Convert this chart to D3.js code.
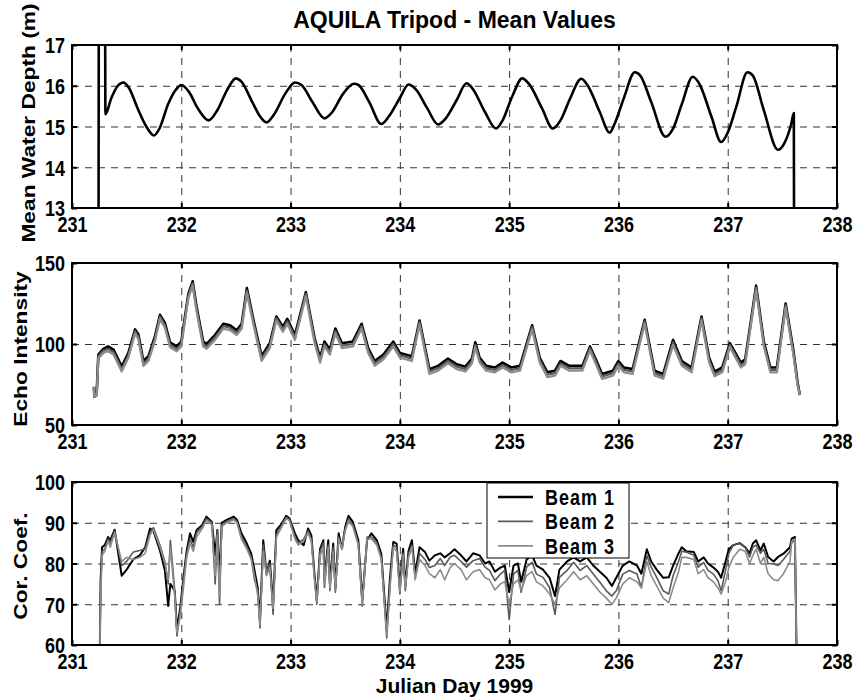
<!DOCTYPE html>
<html lang="en">
<head>
<meta charset="UTF-8">
<title>AQUILA Tripod - Mean Values</title>
<script src="https://d3js.org/d3.v7.min.js"></script>
<style>
  body { margin: 0; background: #fff; }
  svg text { font-family: "Liberation Sans", Arial, Helvetica, sans-serif; font-weight: bold; fill: #000; }
</style>
</head>
<body>
<div id="chart"></div>
<script>
// ---- data ----
const xTicks = [231, 232, 233, 234, 235, 236, 237, 238];

// mean water depth (m)
const depthDays = [231.243, 231.246, 231.302, 231.306, 231.36, 231.42, 231.47, 231.52, 231.60, 231.68, 231.75, 231.80,
  231.88, 231.95, 232.00, 232.07, 232.15, 232.25, 232.33, 232.42, 232.50, 232.55, 232.65, 232.72, 232.78, 232.85,
  232.95, 233.04, 233.10, 233.20, 233.31, 233.38, 233.48, 233.58, 233.62, 233.72, 233.83, 233.90, 234.00, 234.08,
  234.15, 234.25, 234.35, 234.42, 234.52, 234.61, 234.66, 234.78, 234.88, 234.94, 235.03, 235.12, 235.18, 235.30,
  235.40, 235.47, 235.56, 235.66, 235.72, 235.83, 235.92, 235.97, 236.05, 236.15, 236.20, 236.30, 236.43, 236.50,
  236.58, 236.68, 236.74, 236.85, 236.94, 237.00, 237.08, 237.18, 237.23, 237.33, 237.46, 237.52, 237.58, 237.605, 237.607];
const depthVals = [12.5, 18, 18, 15.3, 15.7, 16.0, 16.08, 15.95, 15.45, 15.0, 14.78, 14.95,
  15.55, 15.9, 16.02, 15.85, 15.45, 15.15, 15.4, 15.9, 16.18, 16.1, 15.6, 15.25, 15.1, 15.3,
  15.8, 16.08, 16.02, 15.6, 15.2, 15.35, 15.8, 16.05, 16.02, 15.6, 15.06, 15.25, 15.7, 16.03,
  15.9, 15.45, 15.05, 15.2, 15.65, 16.06, 15.95, 15.35, 14.95, 15.15, 15.75, 16.18, 16.05, 15.45,
  14.95, 15.15, 15.7, 16.17, 16.0, 15.35, 14.85, 15.1, 15.7, 16.33, 16.25, 15.6, 14.75, 14.95,
  15.55, 16.22, 16.05, 15.25, 14.62, 14.85, 15.5, 16.33, 16.25, 15.4, 14.43, 14.6, 15.05, 15.33, 12.5];

// echo intensity, three beams
const echoDays = [231.20, 231.205, 231.226, 231.241, 231.287, 231.33, 231.38, 231.455, 231.516, 231.577, 231.607,
  231.653, 231.70, 231.76, 231.805, 231.85, 231.897, 231.958, 232.0, 232.065, 232.104, 232.14, 232.2, 232.232,
  232.308, 232.385, 232.446, 232.507, 232.553, 232.6, 232.66, 232.735, 232.81, 232.87, 232.93, 232.97, 233.04,
  233.14, 233.22, 233.27, 233.31, 233.36, 233.41, 233.47, 233.57, 233.65, 233.71, 233.77, 233.85, 233.94, 234.0,
  234.11, 234.18, 234.27, 234.35, 234.44, 234.52, 234.6, 234.66, 234.69, 234.73, 234.79, 234.87, 234.94, 235.02,
  235.1, 235.21, 235.28, 235.35, 235.42, 235.47, 235.55, 235.67, 235.74, 235.8, 235.85, 235.95, 236.0, 236.05,
  236.13, 236.24, 236.33, 236.41, 236.5, 236.58, 236.67, 236.76, 236.83, 236.88, 236.95, 237.02, 237.12, 237.16,
  237.26, 237.33, 237.39, 237.45, 237.53, 237.6, 237.64, 237.66];
const echoBeam1 = [73.5, 67.5, 70, 93.5, 97, 98.5, 96.5, 86, 94.5, 109, 106, 89.5, 92.5, 105, 118, 113, 101, 98.5,
  101.5, 131, 138.7, 123, 101.5, 100, 105.5, 112.5, 111.5, 108.5, 112.5, 134.5, 115, 92.5, 100.5, 117, 110.5, 115.5,
  105.5, 132, 103.5, 91.5, 101.5, 96.5, 109.5, 100.5, 101.5, 112.5, 97.5, 89.5, 93.5, 101.5, 94.5, 92.5, 114.5,
  84.5, 86.5, 91, 87.5, 86, 91, 101, 91.5, 86.5, 85.5, 88.5, 85.5, 86.5, 111.5, 91.5, 82.5, 83.5, 89.5, 86.5, 86.5,
  98.5, 89.5, 81.5, 83.5, 89.5, 85.5, 84.5, 115, 83.5, 81.5, 102.5, 89.5, 85.5, 117, 91.5, 83, 85.5, 100.5, 88.5,
  90.5, 136, 101.5, 85.5, 85.5, 125, 96.5, 76, 68.5];
const echoBeam2 = [73.5, 67.5, 69, 92.5, 96, 97, 95, 84.5, 93, 108, 104.5, 88, 91, 103.5, 117, 111.5, 99.5, 97,
  100, 130, 137.5, 121.5, 100, 98.5, 104, 111, 110, 107, 111, 133, 113.5, 91, 99, 116, 109, 114,
  104, 131, 102, 90, 100, 95, 108, 99, 100, 111, 96, 88, 92, 100, 93, 91, 113.5,
  83, 85, 89.5, 86, 84.5, 89.5, 99.5, 90, 85, 84, 87, 84, 85, 110.5, 90, 81, 82, 88, 85, 85,
  97.5, 88, 80, 82, 88, 84, 83, 114, 82, 80, 101, 88, 84, 116, 90, 81.5, 84, 99.5, 87,
  89, 135, 100, 84, 84, 124, 95, 75, 68.5];
const echoBeam3 = [73.5, 67.5, 68, 91, 94.5, 95.5, 93.5, 83, 91.5, 106.5, 103, 86.5, 89.5, 102, 115.5, 110, 98, 95.5,
  98.5, 128.5, 136, 120, 98.5, 97, 102.5, 109.5, 108.5, 105.5, 109.5, 131.5, 112, 89.5, 97.5, 114.5, 107.5, 112.5,
  102.5, 129.5, 100.5, 88.5, 98.5, 93.5, 106.5, 97.5, 98.5, 109.5, 94.5, 86.5, 90.5, 98.5, 91.5, 89.5, 112,
  81.5, 83.5, 88, 84.5, 83, 88, 98, 88.5, 83.5, 82.5, 85.5, 82.5, 83.5, 109, 88.5, 79.5, 80.5, 86.5, 83.5, 83.5,
  96, 86.5, 78.5, 80.5, 86.5, 82.5, 81.5, 112.5, 80.5, 78.5, 99.5, 86.5, 82.5, 114.5, 88.5, 80, 82.5, 98, 85.5,
  87.5, 133.5, 98.5, 82.5, 82.5, 122.5, 93.5, 74, 68.5];

// correlation coefficient, three beams
const corDays = [231.254, 231.262, 231.275, 231.30, 231.33, 231.35, 231.39, 231.455, 231.50, 231.56, 231.62, 231.67,
  231.714, 231.745, 231.805, 231.85, 231.88, 231.90, 231.94, 231.96, 231.99, 232.02, 232.05, 232.08, 232.11, 232.14,
  232.19, 232.23, 232.28, 232.31, 232.33, 232.35, 232.37, 232.415, 232.48, 232.51, 232.55, 232.60, 232.64, 232.67,
  232.70, 232.72, 232.75, 232.78, 232.81, 232.84, 232.87, 232.92, 232.96, 232.99, 233.04, 233.07, 233.12, 233.16,
  233.19, 233.22, 233.24, 233.27, 233.30, 233.31, 233.345, 233.36, 233.39, 233.41, 233.44, 233.47, 233.50, 233.53,
  233.57, 233.62, 233.656, 233.70, 233.74, 233.79, 233.83, 233.88, 233.91, 233.94, 233.97, 234.00, 234.03, 234.05,
  234.08, 234.11, 234.14, 234.18, 234.23, 234.27, 234.32, 234.37, 234.41, 234.46, 234.50, 234.56, 234.61, 234.67,
  234.73, 234.78, 234.82, 234.87, 234.92, 234.96, 235.00, 235.04, 235.08, 235.11, 235.16, 235.21, 235.25, 235.31,
  235.37, 235.42, 235.46, 235.53, 235.59, 235.65, 235.71, 235.77, 235.83, 235.89, 235.94, 235.98, 236.04, 236.10,
  236.17, 236.21, 236.26, 236.30, 236.35, 236.41, 236.46, 236.50, 236.55, 236.58, 236.62, 236.69, 236.73, 236.78,
  236.82, 236.87, 236.91, 236.94, 236.98, 237.01, 237.05, 237.11, 237.16, 237.20, 237.23, 237.26, 237.30, 237.33,
  237.37, 237.42, 237.46, 237.51, 237.57, 237.585, 237.615, 237.63];
const corBeam1 = [58, 76, 84, 84.5, 86.5, 85.7, 88.3, 77, 78.5, 81, 82, 84, 88.6, 88, 83.2, 78.3, 69.6, 75, 73.3, 64,
  69, 76.6, 83.2, 87.4, 85.3, 88.2, 89.4, 91.5, 90.2, 82, 88.2, 76, 90, 90.7, 91.5, 90.7, 87.4, 84.9, 82.4, 78.3,
  74, 66, 85.7, 77.4, 80.7, 70, 88.2, 89.8, 91.7, 91.1, 87.4, 85.7, 84.5, 88.6, 86.9, 77, 71, 83.6, 85.7, 76,
  85.7, 75, 84.9, 74, 87.4, 83.6, 89, 91.7, 90.2, 85.7, 71, 85.7, 87.4, 85.7, 82.4, 64, 76.6, 85.3, 84.9, 74,
  83.6, 74.5, 83.2, 85.7, 77.5, 84, 82.8, 80.7, 82, 82.5, 81.5, 82.5, 83.5, 82, 80.5, 82.5, 82, 80, 80.5, 78, 79,
  79.5, 73, 79.5, 80, 75.5, 81, 82, 79.5, 78.5, 76.5, 72, 78.5, 80.5, 81.5, 80.5, 81.5, 79.5, 78, 76.5, 74.5,
  76.5, 79.5, 80.5, 79.5, 77.5, 83.5, 80.5, 78.5, 76.5, 76.6, 79.5, 82.5, 84, 83, 82.8, 80.5, 81.5, 80, 79, 78,
  76.5, 80.5, 83.5, 84.5, 85, 84, 82.5, 84.9, 85.7, 83.2, 84.9, 81.6, 80.5, 81.6, 82.4, 84, 86.1, 86.5, 58];
const corBeam2 = [58, 74, 83, 83.5, 86, 85, 88, 79.5, 80.5, 82.8, 83.2, 83.6, 87.5, 88.8, 84.5, 80.5, 75, 85.7, 73.5,
  62.2, 68.3, 76, 82.5, 86, 84, 87.5, 89, 91, 90, 75, 88, 70, 89.5, 90.3, 91, 90.2, 86.5, 84, 81.5, 76, 73.3,
  64.2, 84.5, 78, 80, 67.5, 87, 89.5, 91.3, 90.8, 86.5, 85, 86, 88, 86, 76.6, 70, 83, 85, 74.1, 84.5, 73.3, 84,
  72.9, 86.5, 84, 88.5, 91, 89.5, 85, 69.6, 86.5, 86.5, 85, 81.5, 61.7, 75, 84.5, 84, 72.5, 82.5, 73.3, 82.5,
  84.5, 76.6, 82.5, 81, 79, 79.5, 81.2, 79.5, 81.6, 82, 80.5, 79.1, 80.7, 81.2, 79.1, 78.3, 75.8, 77.4, 78.3,
  66.3, 77.4, 78.3, 72.9, 79.1, 80.3, 77.4, 76.6, 74.1, 67.5, 76.6, 78.3, 80.3, 78.3, 79.5, 77.4, 75.4, 73.3,
  72, 73.3, 77.4, 78.3, 77.4, 74.1, 82, 79.1, 76.6, 73.3, 72.5, 77, 80.5, 83, 82.8, 82, 79.1, 80.3, 78.3, 77.4,
  75.8, 73.3, 78.3, 82.4, 84.5, 84.9, 84, 81.6, 84, 84.5, 82.5, 83.5, 80, 79.9, 79.5, 81, 83, 85, 86, 58];
const corBeam3 = [58, 72, 82, 83, 85.5, 84, 87.5, 80.5, 81.5, 81, 81.5, 82.5, 87, 88.3, 84, 80, 76, 84, 72, 63, 67,
  74, 81.5, 85, 83, 86.5, 88.5, 90.5, 89.5, 77, 87, 72, 89, 90, 90.7, 90, 86, 83.5, 81, 77, 72, 65, 83, 77, 79,
  69, 86.5, 89, 91, 90.5, 86, 84.5, 85.5, 87.5, 85.5, 75.5, 70.5, 82, 84, 75, 84, 74, 83, 73.5, 86, 83.5, 88,
  90.5, 89, 84.5, 70, 86, 86, 84.5, 81, 62.5, 74, 84, 83, 73, 82, 74, 81.5, 84, 76, 81, 79.5, 77.5, 76.5, 78.5,
  76, 79, 80, 78.5, 76, 78, 78.5, 76.5, 76, 73.5, 75, 75.5, 70, 75, 76, 73.5, 77, 78, 75.5, 74.5, 72.5, 70, 74,
  76, 78, 76, 77, 75, 73, 71.5, 70, 71.5, 75, 76.5, 75.5, 74, 80.5, 77, 74.5, 71.5, 70.4, 74, 78, 81.5, 81.5, 81,
  77.5, 78.5, 76.5, 75.5, 74, 72.5, 75.5, 79, 81.5, 83.5, 83, 80, 82, 83.5, 80, 81.5, 77.5, 76, 75.8, 77.5, 80.5,
  85.5, 86, 58];

const beamNames = ["Beam 1", "Beam 2", "Beam 3"];
const beamColors = ["#000", "#5a5a5a", "#8c8c8c"];

// ---- layout ----
const width = 855, height = 700;
const left = 72, right = 837;

const svg = d3.select("#chart").append("svg")
  .attr("width", width).attr("height", height);

const x = d3.scaleLinear().domain([231, 238]).range([left, right]);

const panels = [
  { id: "depth", top: 45, bottom: 208, domain: [13, 17], ticks: [13, 14, 15, 16, 17], grid: [14, 15, 16],
    label: "Mean Water Depth (m)", labelX: 29, labelY: 123, curve: d3.curveMonotoneX,
    series: [{ days: depthDays, vals: depthVals, color: "#000", w: 2.6 }] },
  { id: "echo", top: 263, bottom: 425, domain: [50, 150], ticks: [50, 100, 150], grid: [100],
    label: "Echo Intensity", labelX: 20.5, labelY: 349, curve: d3.curveLinear,
    series: [echoBeam1, echoBeam2, echoBeam3].map((v, i) => ({ days: echoDays, vals: v, color: beamColors[i], w: [2.6, 2.2, 2.2][i] })) },
  { id: "cor", top: 482, bottom: 645, domain: [60, 100], ticks: [60, 70, 80, 90, 100], grid: [70, 80, 90],
    label: "Cor. Coef.", labelX: 20.5, labelY: 566, curve: d3.curveLinear,
    series: [corBeam1, corBeam2, corBeam3].map((v, i) => ({ days: corDays, vals: v, color: beamColors[i], w: [2, 1.6, 1.6][i] })) }
];

const stretch = 1.2;

panels.forEach(p => {
  const y = d3.scaleLinear().domain(p.domain).range([p.bottom, p.top]);
  const h = p.bottom - p.top;
  const g = svg.append("g");

  svg.append("clipPath").attr("id", "clip-" + p.id)
    .append("rect").attr("x", left).attr("y", p.top).attr("width", right - left).attr("height", h);

  // dashed grid
  g.append("g")
    .attr("transform", `translate(0,${p.bottom})`)
    .call(d3.axisBottom(x).tickValues(xTicks.slice(1, -1)).tickSize(-h).tickFormat(""))
    .call(s => s.select(".domain").remove())
    .selectAll("line").attr("stroke", "#333").attr("stroke-width", 1).attr("stroke-dasharray", "7,6");
  g.append("g")
    .attr("transform", `translate(${left},0)`)
    .call(d3.axisLeft(y).tickValues(p.grid).tickSize(-(right - left)).tickFormat(""))
    .call(s => s.select(".domain").remove())
    .selectAll("line").attr("stroke", "#333").attr("stroke-width", 1).attr("stroke-dasharray", "7,6");

  // data lines
  const line = d3.line().curve(p.curve).x(d => x(d[0])).y(d => y(d[1]));
  const lg = g.append("g").attr("clip-path", `url(#clip-${p.id})`);
  p.series.forEach(s => {
    lg.append("path")
      .datum(s.days.map((d, i) => [d, s.vals[i]]))
      .attr("fill", "none")
      .attr("stroke", s.color)
      .attr("stroke-width", s.w)
      .attr("stroke-linejoin", "round")
      .attr("d", line);
  });

  // axes, ticks pointing inward on all four sides
  const bottomAx = g.append("g").attr("transform", `translate(0,${p.bottom})`)
    .call(d3.axisBottom(x).tickValues(xTicks).tickSizeInner(-5).tickSizeOuter(0).tickFormat(d3.format("d")));
  bottomAx.selectAll("text")
    .attr("y", 0).attr("dy", null)
    .attr("transform", `translate(0,23.5) scale(1,${stretch})`);

  const leftAx = g.append("g").attr("transform", `translate(${left},0)`)
    .call(d3.axisLeft(y).tickValues(p.ticks).tickSizeInner(-5).tickSizeOuter(0).tickFormat(d3.format("d")));
  leftAx.selectAll("text")
    .attr("x", 0).attr("dy", "0.36em")
    .attr("transform", `translate(-7,0) scale(1,${stretch})`);

  g.append("g").attr("transform", `translate(0,${p.top})`)
    .call(d3.axisTop(x).tickValues(xTicks).tickSizeInner(-5).tickSizeOuter(0).tickFormat(""));
  g.append("g").attr("transform", `translate(${right},0)`)
    .call(d3.axisRight(y).tickValues(p.ticks).tickSizeInner(-5).tickSizeOuter(0).tickFormat(""));

  g.selectAll(".domain").remove();
  g.selectAll(".tick line").filter(function () { return this.getAttribute("stroke-dasharray") == null; })
    .attr("stroke", "#000").attr("stroke-width", 2);
  g.selectAll(".tick text").attr("font-size", 18).attr("font-family", null);

  // box
  g.append("rect")
    .attr("x", left).attr("y", p.top).attr("width", right - left).attr("height", h)
    .attr("fill", "none").attr("stroke", "#000").attr("stroke-width", 2);

  // y label
  g.append("text")
    .attr("transform", `translate(${p.labelX},${p.labelY}) scale(1,1.3) rotate(-90)`)
    .attr("text-anchor", "middle")
    .attr("dy", "0.35em")
    .attr("font-size", 17.5)
    .text(p.label);
});

// title
svg.append("text")
  .attr("x", (left + right) / 2).attr("y", 28)
  .attr("text-anchor", "middle")
  .attr("font-size", 23)
  .text("AQUILA Tripod - Mean Values");

// x label
svg.append("text")
  .attr("x", (left + right) / 2).attr("y", 693)
  .attr("text-anchor", "middle")
  .attr("font-size", 21)
  .text("Julian Day 1999");

// legend
const legend = svg.append("g").attr("transform", "translate(487,483)");
legend.append("rect")
  .attr("width", 142).attr("height", 75)
  .attr("fill", "#fff").attr("stroke", "#000").attr("stroke-width", 1);
beamNames.forEach((name, i) => {
  const ly = 14 + i * 24.4;
  legend.append("line")
    .attr("x1", 11).attr("x2", 46).attr("y1", ly).attr("y2", ly)
    .attr("stroke", beamColors[i]).attr("stroke-width", i === 0 ? 2.5 : 1.8);
  legend.append("text")
    .attr("transform", `translate(58,${ly}) scale(1,${stretch})`)
    .attr("dy", "0.36em")
    .attr("font-size", 18)
    .attr("letter-spacing", 1)
    .text(name);
});
</script>
</body>
</html>
